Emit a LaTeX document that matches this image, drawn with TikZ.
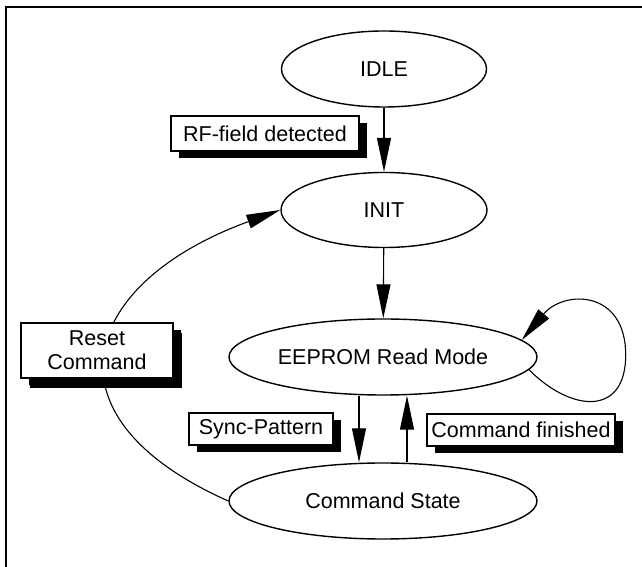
\documentclass[tikz,border=0pt]{standalone}
\usepackage{fontspec}
\setmainfont{Liberation Sans}
\usetikzlibrary{shapes.geometric}
\usetikzlibrary{shadows}
\usetikzlibrary{arrows.meta}

\begin{document}
\begin{tikzpicture}[x=1pt, y=1pt, >={Triangle[length=34pt,width=14pt]},
  state/.style={ellipse, draw, line width=1.4pt, inner sep=0pt, minimum height=76pt, font=\fontsize{21.5}{24}\selectfont},
  cond/.style={draw, fill=white, line width=1.1pt, inner sep=0pt, align=center, font=\fontsize{21.5}{24}\selectfont,
    drop shadow={shadow xshift=8pt, shadow yshift=-7pt, fill=black, opacity=1}},
  trans/.style={->, line width=1.1pt}]
\useasboundingbox (0,0) rectangle (642,567);
% frame
\draw[line width=2.5pt] (6,0) -- (6,560) -- (642,560);

% states
\node[state, minimum width=205pt] (idle) at (384,498) {IDLE};
\node[state, minimum width=206pt, minimum height=75pt] (init) at (384,357) {INIT};
\node[state, minimum width=308pt] (eeprom) at (383,210) {EEPROM Read Mode};
\node[state, minimum width=308pt] (cmd) at (383,66) {Command State};

% transitions
\draw[trans] (idle) -- (init);
\draw[trans] (init) -- (eeprom);
\draw[trans] ([xshift=-24pt]eeprom.south) -- ([xshift=-24pt]cmd.north);
\draw[trans] ([xshift=24pt]cmd.north) -- ([xshift=24pt]eeprom.south);
\coordinate (loopR) at ([xshift=88pt,yshift=2pt]eeprom.east);
\draw[trans] (eeprom.-5) to[out=-45, in=-90, looseness=1.6] (loopR) to[out=90, in=50, looseness=1.6] (eeprom.7);
\draw[trans] (cmd.west) to[out=156, in=200, looseness=1.82] (init.west);

% conditions
\node[cond, minimum width=188pt, minimum height=35pt] (rf) at (265,433.5) {RF-field detected};
\node[cond, minimum width=152pt, minimum height=55pt, drop shadow={shadow xshift=9pt, shadow yshift=-10pt, fill=black, opacity=1}] (reset) at (97,216.5) {Reset\\Command};
\node[cond, minimum width=144pt, minimum height=32pt] (sync) at (261,138) {Sync-Pattern};
\node[cond, minimum width=188pt, minimum height=32pt] (fin) at (521,137) {Command finished};
\end{tikzpicture}
\end{document}
